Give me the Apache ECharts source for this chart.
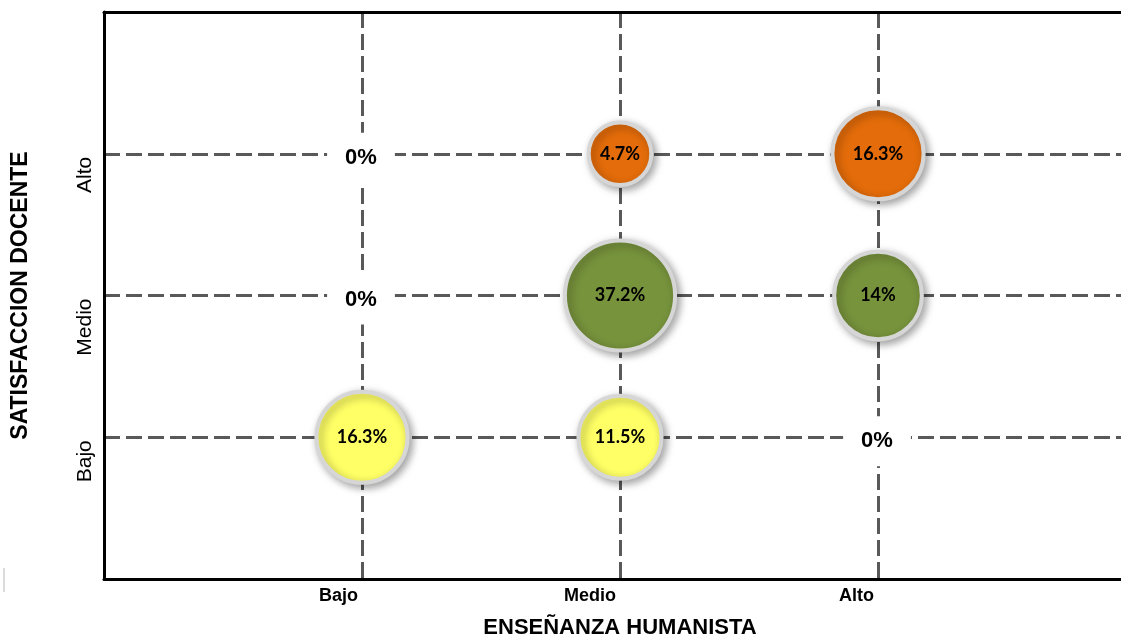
<!DOCTYPE html>
<html>
<head>
<meta charset="utf-8">
<script src="https://cdn.jsdelivr.net/npm/echarts@6/dist/echarts.min.js"></script>
<style>
  html, body { margin: 0; padding: 0; background: #fff; }
  #chart { width: 1121px; height: 636px; }
</style>
</head>
<body>
<div id="chart"></div>
<script>
// ejes
const ensenanza = ["Bajo", "Medio", "Alto"];
const satisfaccion = ["Bajo", "Medio", "Alto"];

// porcentajes por nivel de satisfaccion, a lo largo de ensenanza (Bajo, Medio, Alto)
const pctSatBajo = [16.3, 11.5, 0];
const pctSatMedio = [0, 37.2, 14];
const pctSatAlto = [0, 4.7, 16.3];

const colors = ["#FFFF66", "#77933C", "#E46C0A"];
const rows = [pctSatBajo, pctSatMedio, pctSatAlto];

const gridLine = { color: "#595959", width: 3, type: [16, 6] };
const axisFont = "Liberation Sans, Arial, sans-serif";

// diametro exterior ~ log del porcentaje
function bubbleSize(v) {
  if (!v) return 0;
  return 23 * Math.log(v) + 31 - 4;
}

const series = rows.map((vals, r) => ({
  name: satisfaccion[r],
  type: "scatter",
  symbol: "circle",
  symbolSize: (d) => bubbleSize(d[2]),
  itemStyle: {
    color: colors[r],
    opacity: 1,
    borderColor: "#d6d6d6",
    borderWidth: 4,
    shadowBlur: 8,
    shadowOffsetX: 3,
    shadowOffsetY: 3,
    shadowColor: "rgba(0,0,0,0.35)",
  },
  label: {
    show: true,
    position: "inside",
    formatter: (p) => p.value[2] + "%",
    color: "#000",
    fontFamily: "Lato, sans-serif",
    fontWeight: "bold",
    fontSize: 18,
    textShadowBlur: 0,
  },
  data: vals.map((v, i) => {
    const item = { value: [i + 1, r + 1, v] };
    if (v === 0) {
      item.label = {
        fontFamily: axisFont,
        fontSize: 22,
        backgroundColor: "#fff",
        padding: [14, 18, 14, 18],
        offset: [-1, 4],
      };
    }
    return item;
  }),
}));

const chart = echarts.init(document.getElementById("chart"));
chart.setOption({
  animation: false,
  grid: { left: 104, top: 12, width: 1032, height: 567, outerBoundsMode: "none" },
  xAxis: [
    {
      type: "value",
      min: 0,
      max: 4,
      interval: 1,
      position: "bottom",
      name: "ENSEÑANZA HUMANISTA",
      nameLocation: "middle",
      nameGap: 38,
      nameTextStyle: { color: "#000", fontFamily: axisFont, fontWeight: "bold", fontSize: 22 },
      axisLine: { lineStyle: { color: "#000", width: 3 } },
      axisTick: { show: false },
      axisLabel: {
        color: "#000",
        fontFamily: axisFont,
        fontWeight: "bold",
        fontSize: 18,
        margin: 8,
        align: "right",
        padding: [0, 4, 0, 0],
        formatter: (v) => ensenanza[v - 1] || "",
      },
      splitLine: { show: true, lineStyle: gridLine },
    },
    {
      type: "value",
      min: 0,
      max: 4,
      position: "top",
      axisLine: { show: true, lineStyle: { color: "#000", width: 3 } },
      axisTick: { show: false },
      axisLabel: { show: false },
      splitLine: { show: false },
    },
  ],
  yAxis: {
    type: "value",
    min: 0,
    max: 4,
    interval: 1,
    name: "SATISFACCION DOCENTE",
    nameLocation: "middle",
    nameGap: 72,
    nameTextStyle: { color: "#000", fontFamily: axisFont, fontWeight: "bold", fontSize: 23 },
    axisLine: { show: true, lineStyle: { color: "#000", width: 3 } },
    axisTick: { show: false },
    axisLabel: {
      color: "#000",
      fontFamily: axisFont,
      fontSize: 21,
      rotate: 90,
      margin: 8,
      align: "right",
      verticalAlign: "bottom",
      padding: [0, 3, 0, 0],
      formatter: (v) => satisfaccion[v - 1] || "",
    },
    splitLine: { show: true, lineStyle: gridLine },
  },
  graphic: [
    {
      type: "line",
      shape: { x1: 4, y1: 568, x2: 4, y2: 592 },
      style: { stroke: "#dcdcdc", lineWidth: 2 },
    },
  ],
  series: series,
});
</script>
</body>
</html>
